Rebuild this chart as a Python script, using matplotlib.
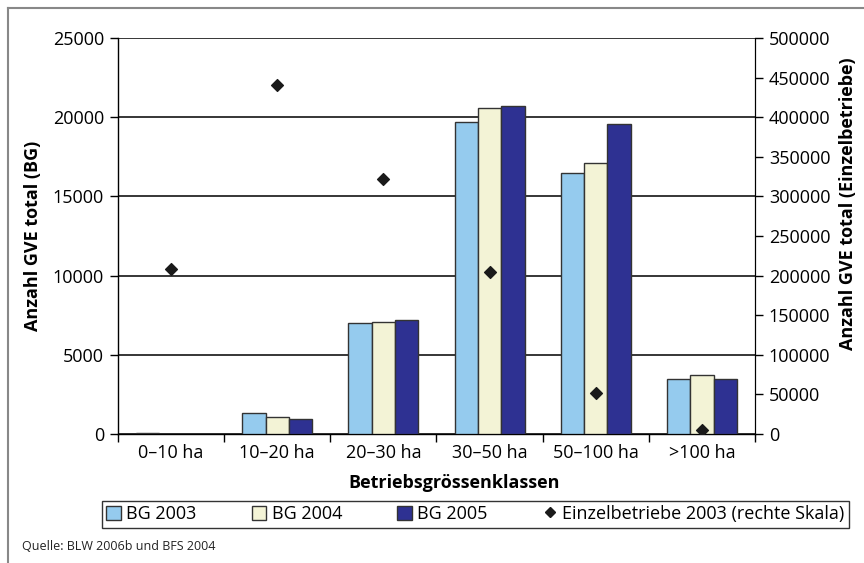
import matplotlib
matplotlib.use('Agg')
import matplotlib.pyplot as plt
from matplotlib.patches import Patch
from matplotlib.lines import Line2D
import numpy as np

plt.rcParams['font.family'] = ['Open Sans', 'DejaVu Sans']

# Daten
klassen = ['0\u201310 ha', '10\u201320 ha', '20\u201330 ha', '30\u201350 ha', '50\u2013100 ha', '>100 ha']
bg_2003 = [40, 1350, 7000, 19700, 16500, 3450]
bg_2004 = [30, 1100, 7050, 20600, 17100, 3750]
bg_2005 = [20, 950, 7200, 20700, 19600, 3450]
einzel_2003 = [208000, 441000, 322000, 205000, 52000, 5000]

farben = ['#95CBEE', '#F3F3D6', '#2E3192']

fig = plt.figure(figsize=(8.64, 5.63), dpi=100)
ax = fig.add_axes([118 / 864, 1 - 434 / 563, 637 / 864, 396 / 563])
ax2 = ax.twinx()

x = np.arange(len(klassen))
w = 0.22
for i, (werte, f) in enumerate(zip([bg_2003, bg_2004, bg_2005], farben)):
    ax.bar(x + (i - 1) * w, werte, width=w, color=f, edgecolor='#333333', linewidth=1.0, zorder=3)

ax2.scatter(x, einzel_2003, marker='D', s=36, color='#1a1a1a', zorder=5)

# Achsen links
ax.set_xlim(-0.5, len(klassen) - 0.5)
ax.set_ylim(0, 25000)
ax.set_yticks(np.arange(0, 25001, 5000))
ax.yaxis.grid(True, color='black', linewidth=1.1, zorder=0)
ax.set_axisbelow(True)
ax.set_xticks(np.arange(-0.5, len(klassen), 1.0))
ax.set_xticklabels([])
ax.set_xticks(x, minor=True)
ax.set_xticklabels(klassen, minor=True)
ax.tick_params(axis='x', which='minor', length=0, labelsize=13, pad=7)
ax.tick_params(axis='x', which='major', length=6, width=1, direction='out')
ax.tick_params(axis='y', length=6, width=1, direction='out', labelsize=13, pad=4)
ax.spines['top'].set_visible(False)
for s in ['left', 'bottom']:
    ax.spines[s].set_color('black')
    ax.spines[s].set_linewidth(1.0)

# Achse rechts
ax2.set_ylim(0, 500000)
ax2.set_yticks(np.arange(0, 500001, 50000))
ax2.tick_params(axis='y', length=6, width=1, direction='out', labelsize=13, pad=4)
ax2.spines['top'].set_visible(False)
ax2.spines['left'].set_visible(False)
ax2.spines['bottom'].set_visible(False)
ax2.spines['right'].set_color('black')

ax.set_ylabel('Anzahl GVE total (BG)', fontsize=13, fontweight='bold')
ax.yaxis.set_label_coords(-0.119, 0.5)
ax2.set_ylabel('Anzahl GVE total (Einzelbetriebe)', fontsize=13, fontweight='bold')
ax2.yaxis.set_label_coords(1.132, 0.581)
ax.set_xlabel('Betriebsgrössenklassen', fontsize=13, fontweight='bold')
ax.xaxis.set_label_coords(0.5275, -0.101)

handles = [Patch(facecolor=farben[0], edgecolor='#333333', label='BG 2003'),
           Patch(facecolor=farben[1], edgecolor='#333333', label='BG 2004'),
           Patch(facecolor=farben[2], edgecolor='#333333', label='BG 2005'),
           Line2D([], [], marker='D', color='#1a1a1a', linestyle='none', markersize=5,
                  label='Einzelbetriebe 2003 (rechte Skala)')]
leg = fig.legend(handles=handles, loc='center', bbox_to_anchor=(0.5503, 0.087), ncol=4,
                 fontsize=13, frameon=True, fancybox=False, edgecolor='black',
                 handlelength=0.8, handleheight=0.8, handletextpad=0.3,
                 columnspacing=3.05, borderpad=0.25)
leg.get_frame().set_linewidth(1.0)

fig.text(22 / 864, 1 - 547 / 563, 'Quelle: BLW 2006b und BFS 2004', fontsize=9,
         va='center', ha='left', color='#222222')

# Rahmen
fig.add_artist(Line2D([8 / 864, 8 / 864], [0, 1 - 8 / 563], transform=fig.transFigure,
                      color='#888888', linewidth=1.5))
fig.add_artist(Line2D([8 / 864, 1], [1 - 8 / 563, 1 - 8 / 563], transform=fig.transFigure,
                      color='#888888', linewidth=1.5))

fig.savefig('out.png', dpi=100)
